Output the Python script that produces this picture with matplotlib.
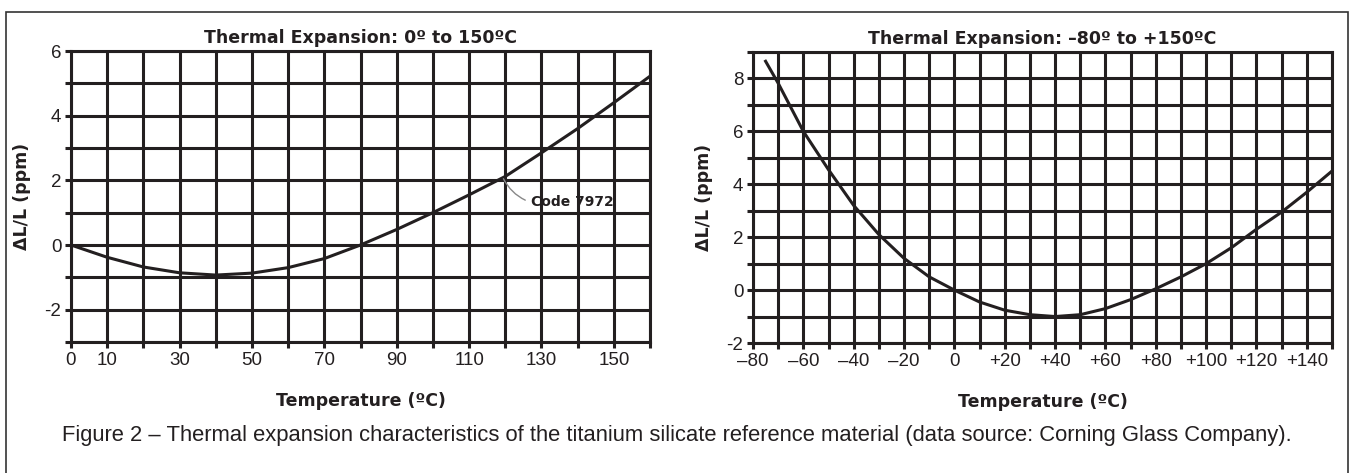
# Thermal expansion of titanium silicate (Code 7972)
import matplotlib
matplotlib.use("Agg")
import matplotlib.pyplot as plt
from matplotlib.patches import Rectangle

plt.rcParams['font.family'] = ['Liberation Sans', 'DejaVu Sans']

# left panel: 0 to 160 C
temp_a = [0, 10, 20, 30, 40, 50, 60, 70, 80, 90, 100, 110, 120, 130, 140, 150, 160]
dl_a = [0.0, -0.38, -0.68, -0.86, -0.93, -0.87, -0.7, -0.42, 0.0, 0.48, 1.0, 1.55, 2.12, 2.85, 3.6, 4.4, 5.22]

# right panel: -75 to 150 C
temp_b = [-75, -70, -60, -50, -40, -30, -20, -10, 0, 10, 20, 30, 40, 50, 60, 70, 80,
          90, 100, 110, 120, 130, 140, 150]
dl_b = [8.65, 7.82, 6.0, 4.55, 3.2, 2.1, 1.2, 0.5, 0.0, -0.45, -0.76, -0.93, -1.0, -0.93,
        -0.7, -0.36, 0.05, 0.5, 1.0, 1.6, 2.3, 2.95, 3.7, 4.5]

xlabels_a = ['0', '10', '', '30', '', '50', '', '70', '', '90', '', '110', '', '130', '', '150', '']
ylabels_a = ['', '-2', '', '0', '', '2', '', '4', '', '6']
xlabels_b = ['\u201380', '', '\u201360', '', '\u201340', '', '\u201320', '', '0', '', '+20', '',
             '+40', '', '+60', '', '+80', '', '+100', '', '+120', '', '+140', '']
ylabels_b = ['-2', '', '0', '', '2', '', '4', '', '6', '', '8', '']

ink = '#231f20'
bold_font = ['DejaVu Sans']

fig = plt.figure(figsize=(13.52, 4.73), dpi=100)
ax1 = fig.add_axes([71/1352, 1-342/473, 579/1352, 291/473])
ax2 = fig.add_axes([753/1352, 1-343/473, 579/1352, 291/473])


def style(ax, xt, xl, yt, yl, title):
    ax.set_xticks(xt)
    ax.set_xticklabels(xl, fontsize=13.5)
    ax.set_yticks(yt)
    ax.set_yticklabels(yl, fontsize=13.5)
    ax.grid(True, color=ink, linewidth=2.2)
    ax.set_axisbelow(True)
    for s in ax.spines.values():
        s.set_color(ink)
        s.set_linewidth(2.2)
    ax.tick_params(length=4, width=2.2, color=ink, pad=3, labelcolor=ink)
    ax.set_title(title, fontsize=12.5, fontweight='bold', family=bold_font, color=ink, pad=6)
    ax.set_xlabel('Temperature (\u00baC)', fontsize=12.5, fontweight='bold', family=bold_font,
                  color=ink, labelpad=17)
    ax.set_ylabel('\u0394L/L (ppm)', fontsize=12.5, fontweight='bold', family=bold_font,
                  color=ink, labelpad=10)


ax1.plot(temp_a, dl_a, color=ink, linewidth=2.2)
ax1.set_xlim(0, 160)
ax1.set_ylim(-3, 6)
style(ax1, range(0, 161, 10), xlabels_a, range(-3, 7), ylabels_a,
      'Thermal Expansion: 0\u00ba to 150\u00baC')
ax1.annotate('Code 7972', xy=(119.5, 2.05), xytext=(127, 1.32),
             fontsize=10, fontweight='bold', family=bold_font, color=ink,
             va='center', ha='left',
             arrowprops=dict(arrowstyle='-', color='#888888', lw=1, relpos=(0, 0.5),
                             connectionstyle='arc3,rad=-0.2', shrinkA=2, shrinkB=0))

ax2.plot(temp_b, dl_b, color=ink, linewidth=2.2)
ax2.set_xlim(-80, 150)
ax2.set_ylim(-2, 9)
style(ax2, range(-80, 151, 10), xlabels_b, range(-2, 10), ylabels_b,
      'Thermal Expansion: \u201380\u00ba to +150\u00baC')

fig.text(62/1352, 1-435/473,
         'Figure 2 \u2013 Thermal expansion characteristics of the titanium silicate reference '
         'material (data source: Corning Glass Company).',
         fontsize=15.85, color=ink, va='center', ha='left')

fig.patches.append(Rectangle((6/1352, -0.05), 1342/1352, 1.05 - 12/473,
                             transform=fig.transFigure, fill=False,
                             edgecolor='#333333', linewidth=1.2))

fig.savefig('out.png', dpi=100)
